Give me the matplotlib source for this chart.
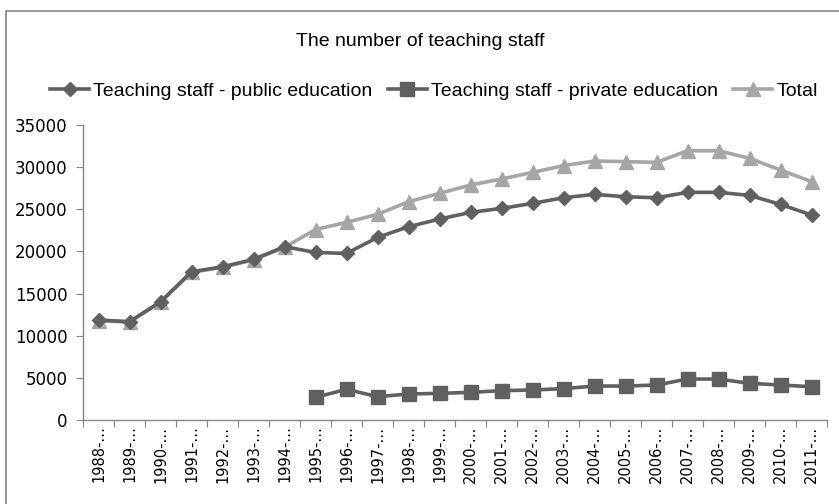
import matplotlib
matplotlib.use("Agg")
import matplotlib.pyplot as plt
from matplotlib.patches import Rectangle
import numpy as np

years = ["1988-…", "1989-…", "1990-…", "1991-…", "1992-…", "1993-…", "1994-…", "1995-…",
         "1996-…", "1997-…", "1998-…", "1999-…", "2000-…", "2001-…", "2002-…", "2003-…",
         "2004-…", "2005-…", "2006-…", "2007-…", "2008-…", "2009-…", "2010-…", "2011-…"]

public = [11860, 11670, 14030, 17590, 18180, 19050, 20560, 19880, 19760, 21660, 22930, 23840,
          24630, 25110, 25700, 26370, 26770, 26490, 26370, 27010, 27010, 26650, 25580, 24320]

private = [np.nan, np.nan, np.nan, np.nan, np.nan, np.nan, np.nan, 2690, 3640, 2770, 3085, 3160,
           3280, 3480, 3560, 3720, 4030, 4030, 4150, 4860, 4860, 4350, 4150, 3950]

total = [11760, 11620, 13950, 17520, 18120, 19000, 20480, 22600, 23450, 24400, 25900, 26890,
         27880, 28590, 29380, 30180, 30730, 30650, 30570, 31950, 31950, 31050, 29660, 28280]

yticks = [0, 5000, 10000, 15000, 20000, 25000, 30000, 35000]

txtfont = ["Liberation Sans", "DejaVu Sans"]

fig = plt.figure(figsize=(8.39, 5.04), dpi=100)
ax = fig.add_axes([83/839, (504-420)/504, (827-83)/839, (420-125)/504])

x = np.arange(len(years)) + 0.5
dark = "#606060"
light = "#a6a6a6"
ax.plot(x, total, color=light, lw=2.6, marker="^", ms=10, mec=light, mfc=light, zorder=2,
        label="Total")
ax.plot(x, public, color=dark, lw=2.6, marker="D", ms=7, mec=dark, mfc=dark, zorder=3,
        label="Teaching staff - public education")
ax.plot(x, private, color=dark, lw=2.6, marker="s", ms=9.5, mec=dark, mfc=dark, zorder=3,
        label="Teaching staff - private education")

ax.set_xlim(0, len(years))
ax.set_ylim(0, 35000)
ax.set_yticks(yticks)
ax.set_yticklabels([str(v) for v in yticks], fontsize=12, family="DejaVu Sans")
ax.set_xticks(np.arange(len(years) + 1))
ax.set_xticklabels([])
ax.set_xticks(x, minor=True)
ax.set_xticklabels(years, minor=True, rotation=90, fontsize=10.5, family="DejaVu Sans")
ax.tick_params(axis="x", which="major", length=5, color="#868686", direction="out")
ax.tick_params(axis="x", which="minor", length=0, pad=4)
ax.tick_params(axis="y", length=5, color="#868686", direction="out", pad=6)
for s in ["top", "right"]:
    ax.spines[s].set_visible(False)
for s in ["left", "bottom"]:
    ax.spines[s].set_color("#868686")
    ax.spines[s].set_linewidth(1)

h, l = ax.get_legend_handles_labels()
order = [1, 2, 0]
fig.legend([h[i] for i in order], [l[i] for i in order], loc="center",
           bbox_to_anchor=(434/839, 1 - 91/504), ncol=3, frameon=False,
           prop={"family": txtfont, "size": 14}, handlelength=2.0, handletextpad=0.2,
           columnspacing=0.8, borderaxespad=0)

fig.text(420/839, 1 - 42/504, "The number of teaching staff", ha="center", va="center",
         fontsize=14, family=txtfont)

fig.patches.append(Rectangle((6/839, -0.1), 1.1, (504-11)/504 + 0.1, transform=fig.transFigure,
                             fill=False, edgecolor="#868686", lw=1.2, zorder=0))

fig.savefig("out.png", dpi=100)
